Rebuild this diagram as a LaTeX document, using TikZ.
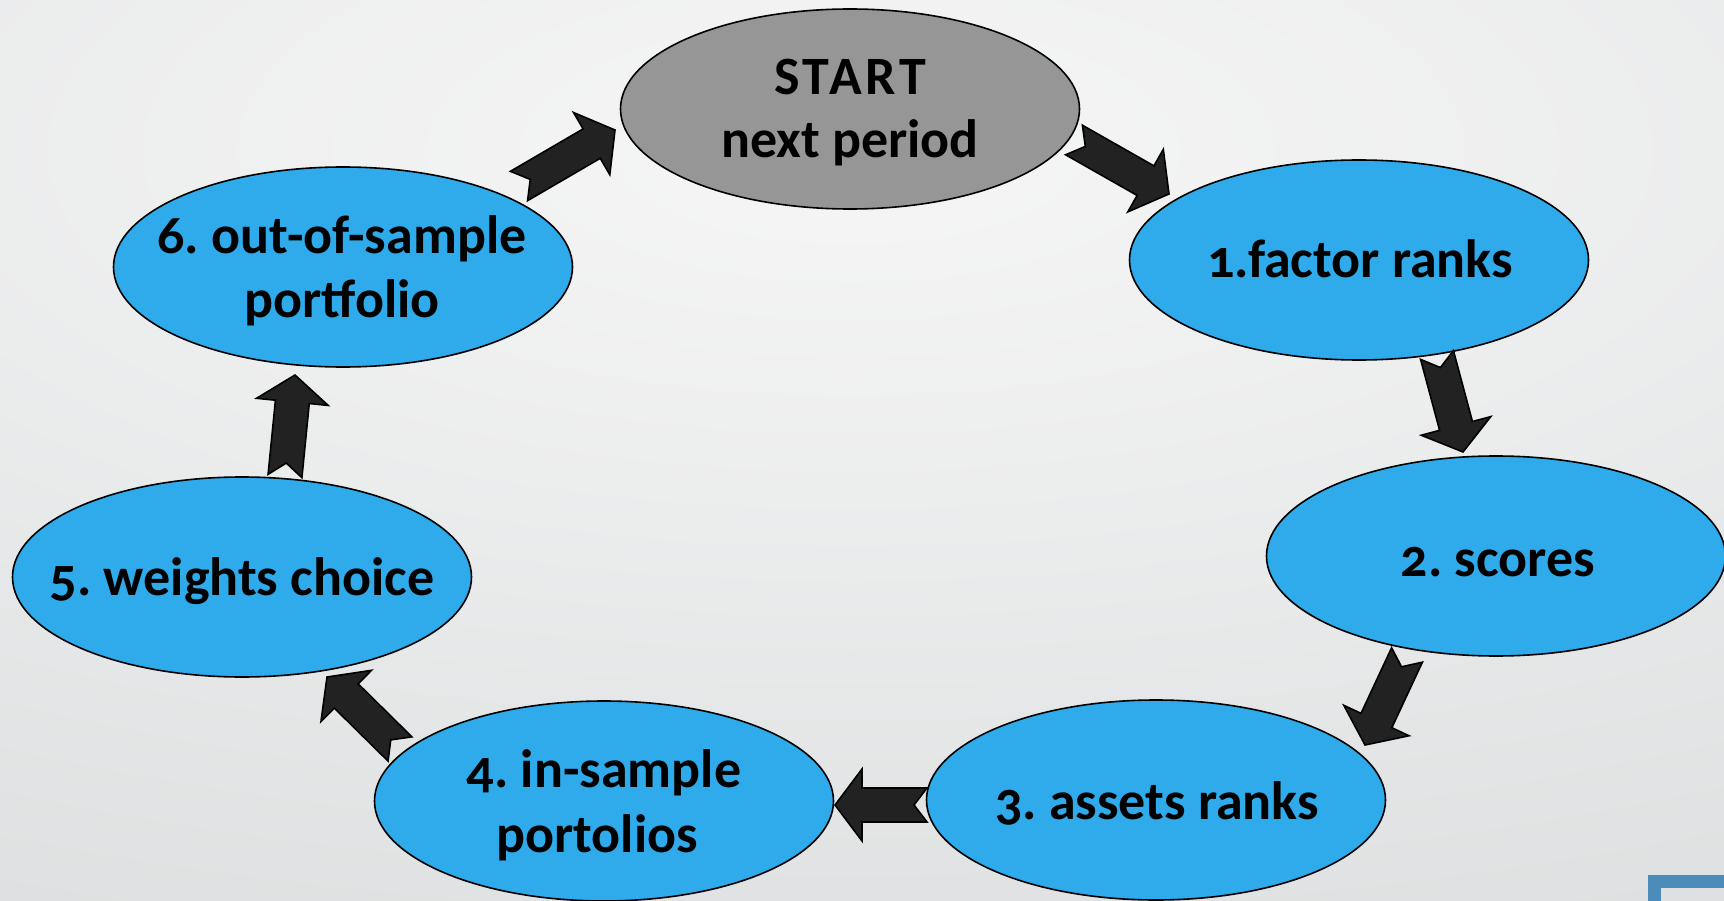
\documentclass[tikz,border=0pt]{standalone}
\usepackage{fontspec}
\setmainfont{Carlito}[Numbers=OldStyle]
\usetikzlibrary{shapes.geometric,calc}
\frenchspacing
\definecolor{ellblue}{HTML}{2FAAEA}
\definecolor{ellgray}{HTML}{969696}
\definecolor{arrfill}{HTML}{222222}
\definecolor{bginner}{HTML}{F6F6F6}
\definecolor{bgouter}{HTML}{BCC1C3}
\definecolor{cornerblue}{HTML}{4B8CBA}
\tikzset{
  ell/.style={ellipse, draw=black, line width=1.6pt, minimum width=459pt, minimum height=200pt, inner sep=0pt},
  lbl/.style={font=\bfseries\fontsize{54}{63}\selectfont, anchor=base, inner sep=0pt, text=black},
  blockarr/.style={fill=arrfill, draw=black, line width=1.6pt, line join=miter}
}
\newcommand\notcharrow[2]{%
  \path ($(#2)!27pt!(#1)$) coordinate (hb);
  \draw[blockarr] ($(#1)!17pt!90:(#2)$) -- ($(hb)!17pt!90:(#2)$) -- ($(hb)!36pt!90:(#2)$)
    -- (#2) -- ($(hb)!36pt!-90:(#2)$) -- ($(hb)!17pt!-90:(#2)$) -- ($(#1)!17pt!-90:(#2)$)
    -- ($(#1)!13pt!(#2)$) -- cycle;}
\begin{document}
\begin{tikzpicture}[x=1pt,y=-1pt]
\useasboundingbox (0,0) rectangle (1724,901);
\begin{scope}
\clip (0,0) rectangle (1724,901);
\shade[inner color=bginner, outer color=bgouter] (850-5000,150-2000) rectangle (850+5000,150+2000);
% ellipses
\node[ell, fill=ellgray] (n0) at (850,109) {};
\node[ell, fill=ellblue] (n1) at (1359,260) {};
\node[ell, fill=ellblue] (n2) at (1496,556) {};
\node[ell, fill=ellblue] (n3) at (1156,800) {};
\node[ell, fill=ellblue] (n4) at (604,801) {};
\node[ell, fill=ellblue] (n5) at (242,577) {};
\node[ell, fill=ellblue] (n6) at (343,267) {};
% corner decoration
\fill[cornerblue] (1648,875) rectangle (1724,888);
\fill[cornerblue] (1648,875) rectangle (1661,901);
\end{scope}
% labels
\node[lbl] (t0a) at (850,95) {\addfontfeatures{LetterSpace=7}START};
\node[lbl] (t0b) at (850,158) {next period};
\node[lbl] (t1) at (1360,278) {1.factor ranks};
\node[lbl] (t2) at (1498,576) {2. scores};
\node[lbl] (t3) at (1157,819) {3. assets ranks};
\node[lbl] (t4a) at (604,787) {4. in-sample};
\node[lbl] (t4b) at (597,852) {portolios};
\node[lbl] (t5) at (242,595) {5. weights choice};
\node[lbl] (t6a) at (342,254) {6. out-of-sample};
\node[lbl] (t6b) at (342,318) {portfolio};
% arrow end points
\coordinate (a0t) at (1074,140); \coordinate (a0h) at (1169,194);
\coordinate (a1t) at (1437,355); \coordinate (a1h) at (1463,452);
\coordinate (a2t) at (1407,655); \coordinate (a2h) at (1365,745);
\coordinate (a3t) at (927,805);  \coordinate (a3h) at (835,805);
\coordinate (a4t) at (400,749);  \coordinate (a4h) at (327,677);
\coordinate (a5t) at (285,476);  \coordinate (a5h) at (295,375);
\coordinate (a6t) at (519,186);  \coordinate (a6h) at (615,130);
\notcharrow{a0t}{a0h}
\notcharrow{a1t}{a1h}
\notcharrow{a2t}{a2h}
\notcharrow{a3t}{a3h}
\notcharrow{a4t}{a4h}
\notcharrow{a5t}{a5h}
\notcharrow{a6t}{a6h}
\end{tikzpicture}
\end{document}
